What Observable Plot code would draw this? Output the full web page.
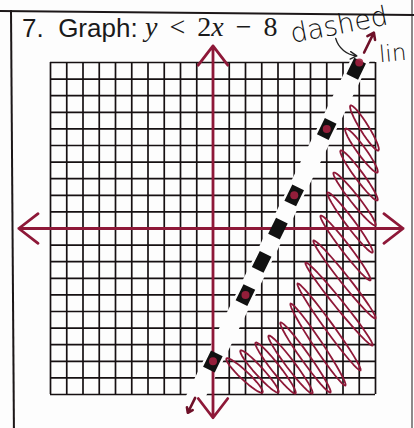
<!DOCTYPE html>
<html>
<head>
<meta charset="utf-8">
<script src="https://cdn.jsdelivr.net/npm/d3@7"></script>
<script src="https://cdn.jsdelivr.net/npm/@observablehq/plot@0.6"></script>
<style>
  html, body { margin: 0; padding: 0; background: #fff; }
  #sheet { position: relative; width: 414px; height: 428px; overflow: hidden; background: #fdfdfd; }
  #sheet svg { position: absolute; left: 0; top: 0; }
  .edge { position: absolute; background: #1c1718; }
  .title { position: absolute; top: 15px; font-size: 26px; line-height: 26px; white-space: nowrap; color: #1a1a1a; }
  .sans { font-family: "Liberation Sans", Arial, sans-serif; }
  .math { font-family: "Liberation Serif", serif; font-size: 28px; }
  .math i { font-style: italic; }
  .math .op { margin: 0 12px; }
  .hand { position: absolute; font-family: "DejaVu Sans", sans-serif; font-weight: 300; color: #111; white-space: nowrap; line-height: 26px; }
</style>
</head>
<body>
<div id="sheet">
  <div class="edge" style="left:0;top:10px;width:414px;height:2px;transform:rotate(0.55deg);transform-origin:0 0;"></div>
  <div class="edge" style="left:10px;top:10px;width:2px;height:420px;transform:rotate(-0.4deg);transform-origin:0 0;"></div>
  <div class="edge" style="left:411px;top:0;width:2px;height:428px;opacity:0.5;"></div>
  <div class="title sans" style="left:22px;">7.&nbsp; Graph:</div>
  <div class="title math" style="left:145px;top:14px;"><i>y</i><span class="op">&lt;</span>2<i>x</i><span class="op">−</span>8</div>
  <div class="hand" style="left:293px;top:21px;font-size:27px;transform:rotate(-11deg);transform-origin:0 100%;">dashed</div>
  <div class="hand" style="left:379px;top:40px;font-size:23px;transform:rotate(-5deg);width:29px;overflow:hidden;">lin</div>
</div>
<script>
// Graph paper: one line per unit from -10 to 10
const gridValues = [-10, -9, -8, -7, -6, -5, -4, -3, -2, -1, 0, 1, 2, 3, 4, 5, 6, 7, 8, 9, 10];

// Boundary y = 2x − 8 (dashed, strict inequality)
const slope = 2;
const intercept = -8;
const boundaryX = [-1.55, 9.9];

// Points plotted on the boundary
const plottedPoints = [[0, -8], [2, -4], [5, 2], [7, 6], [9, 10]];

// Hand-drawn axis ends (arrow tips)
const xAxisEnds = [-11.95, 11.7];
const yAxisEnds = [-11.4, 11.0];

// Shading strokes in the half-plane below the line: [x1, y1, x2, y2]
const hatchStrokes = [
  [8.46, 7.41, 10.18, 4.70],
  [8.15, 6.02, 10.12, 3.37],
  [7.85, 4.70, 10.12, 1.69],
  [7.42, 3.37, 10.0, 0.18],
  [7.05, 2.17, 9.82, -1.45],
  [6.62, 0.78, 9.69, -3.13],
  [6.18, -0.72, 10.0, -5.42],
  [5.69, -2.05, 9.82, -7.05],
  [5.20, -3.31, 9.08, -8.55],
  [4.77, -4.52, 8.15, -9.46],
  [4.15, -5.66, 7.23, -9.88],
  [3.42, -6.45, 6.12, -9.94],
  [2.62, -6.87, 5.08, -9.94],
  [1.69, -7.35, 4.03, -9.88],
  [0.83, -7.83, 3.05, -9.88]
];

const maroon = "#8e1838";
const ink = "#161012";

// Hand-made dashes along the boundary (px along the line from its lower end)
const dashPattern = "0,48,18,56,18,19,18,19,18,19,18,56,18,49,18,200";

// Each shading stroke is drawn as a narrow closed loop around its centre line
const loopWidth = 0.26;
const loopSteps = 32;
const hatchLoops = hatchStrokes.flatMap(([x1, y1, x2, y2], id) => {
  const dx = x2 - x1, dy = y2 - y1, len = Math.hypot(dx, dy);
  const ux = dx / len, uy = dy / len;
  const cx = (x1 + x2) / 2, cy = (y1 + y2) / 2, half = len / 2;
  return Array.from({length: loopSteps + 1}, (_, k) => {
    const a = (2 * Math.PI * k) / loopSteps;
    const along = half * Math.cos(a), across = loopWidth * Math.sin(a);
    return {id, x: cx + ux * along - uy * across, y: cy + uy * along + ux * across};
  });
});

const boundary = boundaryX.map(x => ({x, y: slope * x + intercept}));

const chart = Plot.plot({
  width: 414,
  height: 428,
  marginLeft: 50,
  marginRight: 39,
  marginTop: 62,
  marginBottom: 34,
  x: {domain: [-10, 10], axis: null},
  y: {domain: [-10, 10], axis: null},
  style: {background: "transparent", overflow: "visible"},
  marks: [
    Plot.ruleX(gridValues, {y1: -10, y2: 10, stroke: ink, strokeWidth: 1.7}),
    Plot.ruleY(gridValues, {x1: -10, x2: 10, stroke: ink, strokeWidth: 1.7}),
    Plot.line(boundary, {x: "x", y: "y", stroke: "#fdfdfd", strokeWidth: 18, strokeLinecap: "round"}),
    Plot.line(hatchLoops, {x: "x", y: "y", z: "id", stroke: maroon, strokeWidth: 1.8}),
    Plot.arrow(xAxisEnds.map(x2 => ({x1: 0, y1: 0, x2, y2: 0})), {
      x1: "x1", y1: "y1", x2: "x2", y2: "y2", stroke: maroon, strokeWidth: 2.8, headLength: 13, headAngle: 75
    }),
    Plot.arrow(yAxisEnds.map(y2 => ({x1: 0, y1: 0, x2: 0, y2})), {
      x1: "x1", y1: "y1", x2: "x2", y2: "y2", stroke: maroon, strokeWidth: 2.8, headLength: 13, headAngle: 75
    }),
    Plot.line(boundary, {x: "x", y: "y", stroke: "#111", strokeWidth: 13, strokeDasharray: dashPattern, strokeLinecap: "butt"}),
    Plot.dot(plottedPoints, {x: d => d[0], y: d => d[1], r: 4, fill: "#a3203f", fillOpacity: 0.9}),
    Plot.arrow([{x1: 9.3, y1: 10.6, x2: boundary[1].x, y2: boundary[1].y}, {x1: -1.1, y1: -10.2, x2: boundary[0].x, y2: boundary[0].y}], {
      x1: "x1", y1: "y1", x2: "x2", y2: "y2", stroke: "#6e1028", strokeWidth: 2.6, headLength: 11, headAngle: 70
    }),
    Plot.arrow([{x1: 7.55, y1: 11.45, x2: 8.85, y2: 10.4}], {
      x1: "x1", y1: "y1", x2: "x2", y2: "y2", bend: -35, stroke: "#222", strokeWidth: 1.4, headLength: 8
    })
  ]
});

document.getElementById("sheet").prepend(chart);
</script>
</body>
</html>
